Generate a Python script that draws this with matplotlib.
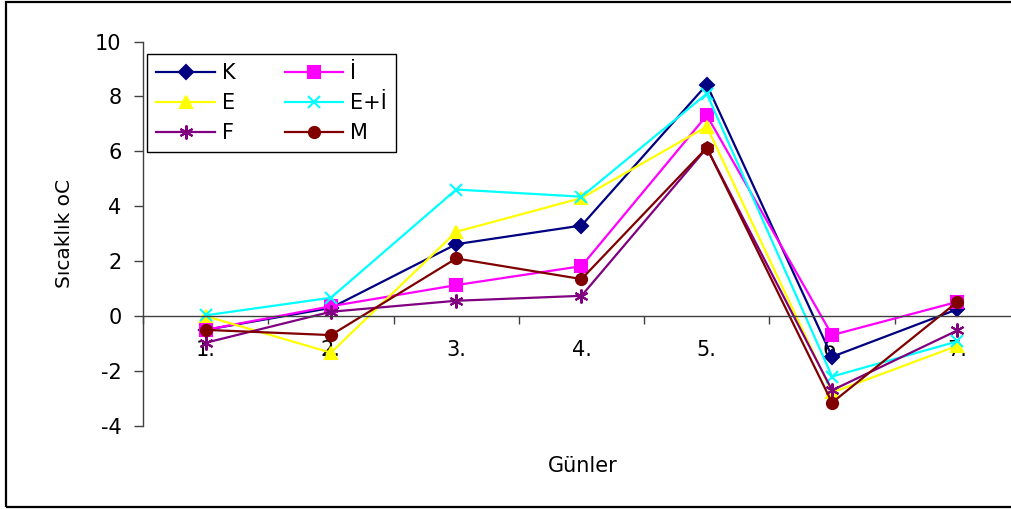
import matplotlib.pyplot as plt
from matplotlib.patches import Rectangle

plt.rcParams['font.family'] = ['DejaVu Sans']
plt.rcParams['axes.unicode_minus'] = False

gunler = ['1.', '2.', '3.', '4.', '5.', '6.', '7.']

K = [-0.5, 0.3, 2.62, 3.3, 8.43, -1.48, 0.25]
I = [-0.5, 0.36, 1.13, 1.82, 7.31, -0.69, 0.52]
E = [0.0, -1.33, 3.07, 4.3, 6.9, -2.78, -1.08]
EI = [0.03, 0.67, 4.61, 4.35, 8.1, -2.2, -0.92]
F = [-0.97, 0.16, 0.56, 0.74, 6.12, -2.7, -0.52]
M = [-0.5, -0.69, 2.1, 1.35, 6.13, -3.15, 0.52]

fig = plt.figure(figsize=(10.12, 5.09), dpi=100)
ax = fig.add_axes([143 / 1012, 1 - 426 / 509, 877 / 1012, 384.5 / 509])

x = list(range(1, len(gunler) + 1))

series = [
    ('K', K, '#000080', 'D', 7),
    ('İ', I, '#FF00FF', 's', 8),
    ('E', E, '#FFFF00', '^', 9),
    ('E+İ', EI, '#00FFFF', 'x', 9),
    ('F', F, '#800080', (6, 2, 0), 10),
    ('M', M, '#800000', 'o', 8),
]

handles = {}
for name, vals, col, mk, ms in series:
    ln, = ax.plot(x, vals, color=col, lw=1.6, marker=mk, markersize=ms,
                  markerfacecolor=col, markeredgecolor=col, markeredgewidth=1.5,
                  label=name, clip_on=False)
    handles[name] = ln

ax.set_xlim(0.5, 7.5)
ax.set_ylim(-4, 10)
ax.set_yticks(range(-4, 11, 2))

ax.spines['top'].set_visible(False)
ax.spines['right'].set_visible(False)
ax.spines['bottom'].set_position(('data', 0))
for s in ('left', 'bottom'):
    ax.spines[s].set_color('#404040')
    ax.spines[s].set_linewidth(1.0)

ax.set_xticks(x)
ax.set_xticklabels(gunler)
ax.set_xticks([i + 0.5 for i in range(0, 8)], minor=True)
ax.tick_params(axis='x', which='major', length=0, pad=17, labelsize=15)
ax.tick_params(axis='x', which='minor', direction='out', length=6, width=1, color='#404040')
ax.tick_params(axis='y', direction='out', length=6.5, width=1, color='#404040', pad=9, labelsize=15)

ax.set_ylabel('Sıcaklık oC', fontsize=14.5)
ax.yaxis.set_label_coords(-0.079, 0.5)
fig.text(583 / 1012, 1 - 466 / 509, 'Günler', fontsize=15, ha='center', va='center')

order = ['K', 'E', 'F', 'İ', 'E+İ', 'M']
leg = fig.legend([handles[n] for n in order], order, ncol=2,
                 loc='upper left', bbox_to_anchor=(147 / 1012, 1 - 54 / 509),
                 fontsize=15, frameon=True, fancybox=False, framealpha=1,
                 handlelength=2.8, handletextpad=0.35, columnspacing=2.35,
                 labelspacing=0.47, borderpad=0.45, borderaxespad=0)
leg.get_frame().set_edgecolor('black')
leg.get_frame().set_linewidth(1.0)

# outer frame around the chart
fig.patches.append(Rectangle((6 / 1012, 2 / 509), 1.05, 505 / 509, transform=fig.transFigure,
                             fill=False, edgecolor='black', linewidth=1.6, figure=fig))

fig.savefig('out.png', dpi=100)
